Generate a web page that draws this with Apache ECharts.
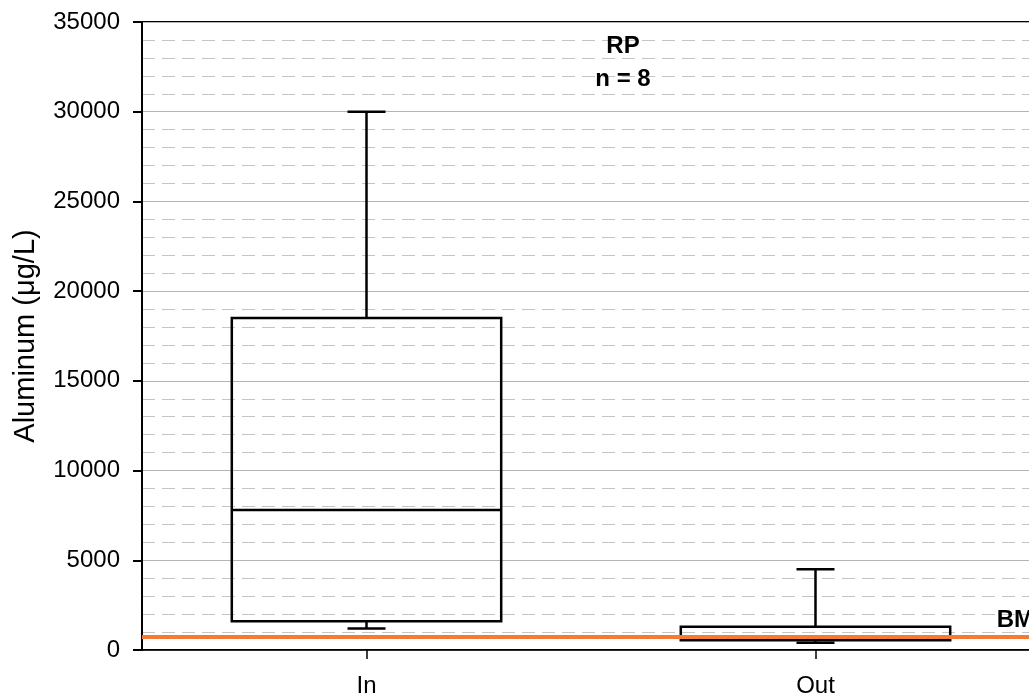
<!DOCTYPE html>
<html>
<head>
<meta charset="utf-8">
<script src="https://cdn.jsdelivr.net/npm/echarts@6/dist/echarts.min.js"></script>
<style>
  html, body { margin: 0; padding: 0; background: #fff; }
  #chart { width: 1029px; height: 696px; }
</style>
</head>
<body>
<div id="chart"></div>
<script>
// Sampling sites
const categories = ['In', 'Out'];
// Box statistics per site: [min, Q1, median, Q3, max] in µg/L
const lowWhisker = [1200, 400];
const q1Values = [1600, 550];
const medianValues = [7800, 700];
const q3Values = [18500, 1300];
const highWhisker = [30000, 4500];
// Benchmark level drawn as a horizontal reference line
const benchmark = 750;
const benchmarkLabel = 'BMP';
const yTicks = { min: 0, max: 35000, interval: 5000 };

const boxData = categories.map((c, i) => [i, lowWhisker[i], q1Values[i], medianValues[i], q3Values[i], highWhisker[i]]);

const FONT = '"Liberation Sans", Arial, sans-serif';

function renderBox(params, api) {
  const x = api.value(0);
  const pMin = api.coord([x, api.value(1)]);
  const pQ1 = api.coord([x, api.value(2)]);
  const pMed = api.coord([x, api.value(3)]);
  const pQ3 = api.coord([x, api.value(4)]);
  const pMax = api.coord([x, api.value(5)]);
  const band = api.size([1, 0])[0];
  const half = band * 0.3;
  const cap = 19;
  const cx = pMed[0];
  const style = { stroke: '#000', lineWidth: 2.5, fill: null };
  return {
    type: 'group',
    children: [
      { type: 'rect', shape: { x: cx - half, y: pQ3[1], width: half * 2, height: pQ1[1] - pQ3[1] }, style: style },
      { type: 'line', shape: { x1: cx - half, y1: pMed[1], x2: cx + half, y2: pMed[1] }, style: style },
      { type: 'line', shape: { x1: cx, y1: pQ3[1], x2: cx, y2: pMax[1] }, style: style },
      { type: 'line', shape: { x1: cx - cap, y1: pMax[1], x2: cx + cap, y2: pMax[1] }, style: style },
      { type: 'line', shape: { x1: cx, y1: pQ1[1], x2: cx, y2: pMin[1] }, style: style },
      { type: 'line', shape: { x1: cx - cap, y1: pMin[1], x2: cx + cap, y2: pMin[1] }, style: style }
    ]
  };
}

const chart = echarts.init(document.getElementById('chart'), null, { renderer: 'canvas' });
chart.setOption({
  animation: false,
  backgroundColor: '#fff',
  textStyle: { fontFamily: FONT },
  grid: {
    left: 142, width: 898, top: 22, bottom: 46,
    outerBoundsMode: 'none',
    containLabel: false,
    show: true, borderColor: '#000', borderWidth: 2, backgroundColor: 'transparent'
  },
  title: {
    text: 'RP\nn = 8',
    left: 618, top: 25, textAlign: 'center',
    textStyle: { fontFamily: FONT, fontSize: 24, fontWeight: 'bold', color: '#000', lineHeight: 33 }
  },
  xAxis: {
    type: 'category',
    data: categories,
    axisLine: { show: true, lineStyle: { color: '#000', width: 1.5 } },
    axisTick: { show: true, alignWithLabel: true, length: 9, lineStyle: { color: '#000', width: 1.5 } },
    axisLabel: { color: '#000', fontSize: 24, margin: 24, fontFamily: FONT },
    splitLine: { show: false }
  },
  yAxis: {
    type: 'value',
    min: yTicks.min, max: yTicks.max, interval: yTicks.interval,
    name: 'Aluminum (\u03bcg/L)',
    nameLocation: 'middle',
    nameGap: 102,
    nameTextStyle: { color: '#000', fontSize: 29, fontFamily: FONT },
    axisLine: { show: true, lineStyle: { color: '#000', width: 2 } },
    axisTick: { show: true, length: 9, lineStyle: { color: '#000', width: 2 } },
    axisLabel: { color: '#000', fontSize: 24, margin: 22, fontFamily: FONT, formatter: v => String(v) },
    splitLine: { show: true, lineStyle: { color: '#b4b4b4', width: 1 } },
    minorTick: { show: false, splitNumber: 5 },
    minorSplitLine: { show: true, lineStyle: { color: '#c4c4c4', width: 1, type: [13, 7] } }
  },
  series: [
    {
      type: 'custom',
      data: boxData,
      renderItem: renderBox,
      z: 3,
      markLine: {
        silent: true,
        symbol: ['none', 'none'],
        z: 5,
        lineStyle: { color: '#f47a36', width: 4, type: 'solid' },
        label: {
          show: true,
          formatter: benchmarkLabel,
          position: 'insideEndTop',
          distance: [-10, 4],
          color: '#000',
          fontSize: 24,
          fontWeight: 'bold',
          fontFamily: FONT
        },
        data: [{ yAxis: benchmark }]
      }
    }
  ]
});
</script>
</body>
</html>
